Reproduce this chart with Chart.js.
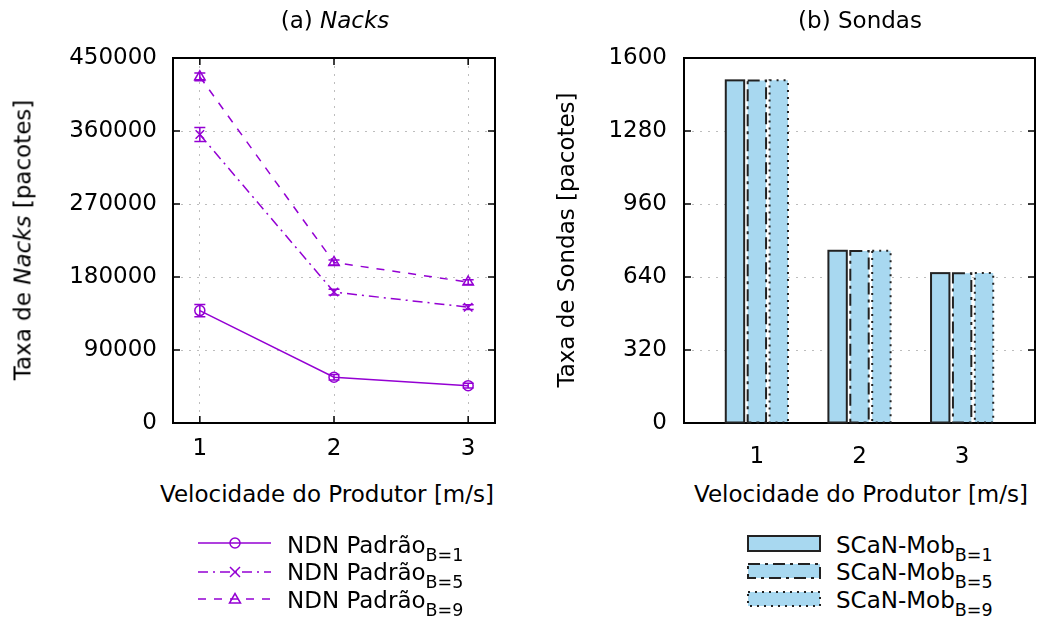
<html>
<head>
<title>Nacks e Sondas</title>
<script src="https://cdn.jsdelivr.net/npm/chart.js@4.4.0/dist/chart.umd.min.js"></script>
<style>
  body { margin: 0; background: #fff; font-family: 'DejaVu Sans', sans-serif; }
  #page { position: relative; width: 1037px; height: 619px; overflow: hidden; }
  canvas { position: absolute; top: 0; }
  .lbl { position: absolute; font-size: 23px; color: #000; white-space: nowrap; line-height: 1;
         transform: translate(-50%, -50%); }
  .rot { transform: translate(-50%, -50%) rotate(-90deg); }
  .leg { position: absolute; font-size: 23px; color: #000; white-space: nowrap; line-height: 1;
         transform: translateY(-50%); }
  .sb { font-size: 17.5px; position: relative; top: 8px; }
  svg { position: absolute; overflow: visible; }
</style>
</head>
<body>
<div id="page">
  <canvas id="nacks" width="520" height="480" style="left:0px"></canvas>
  <canvas id="sondas" width="517" height="480" style="left:520px"></canvas>

  <div class="lbl" style="left:335px; top:20px;">(a) <i>Nacks</i></div>
  <div class="lbl" style="left:860px; top:20px;">(b) Sondas</div>
  <div class="lbl rot" style="left:23px; top:240px;">Taxa de <i>Nacks</i> [pacotes]</div>
  <div class="lbl rot" style="left:566px; top:240px;">Taxa de Sondas [pacotes]</div>
  <div class="lbl" style="left:327px; top:494px;">Velocidade do Produtor [m/s]</div>
  <div class="lbl" style="left:861px; top:494px;">Velocidade do Produtor [m/s]</div>

  <!-- legenda (a) -->
  <svg width="1" height="1" style="left:0;top:0">
    <g stroke="#9400d3" stroke-width="1.5" fill="none">
      <line x1="198" y1="543" x2="271" y2="543"/>
      <circle cx="235" cy="543" r="5"/>
      <line x1="198" y1="572" x2="271" y2="572" stroke-dasharray="10 5 2 5"/>
      <path d="M230 567 L240 577 M240 567 L230 577"/>
      <line x1="198" y1="599" x2="271" y2="599" stroke-dasharray="8 8"/>
      <path d="M229.5 603 L240.5 603 L235 593.5 Z"/>
    </g>
    <g stroke="#222" stroke-width="2" fill="#a8d8f0">
      <rect x="748" y="536" width="72" height="15"/>
      <rect x="748" y="564" width="72" height="14" stroke-dasharray="12 5 3 5"/>
      <rect x="748" y="592" width="72" height="14" stroke-dasharray="2 5"/>
    </g>
  </svg>
  <div class="leg" style="left:287px; top:545px;">NDN Padrão<span class="sb">B=1</span></div>
  <div class="leg" style="left:287px; top:572px;">NDN Padrão<span class="sb">B=5</span></div>
  <div class="leg" style="left:287px; top:600px;">NDN Padrão<span class="sb">B=9</span></div>
  <div class="leg" style="left:836px; top:545px;">SCaN-Mob<span class="sb">B=1</span></div>
  <div class="leg" style="left:836px; top:572px;">SCaN-Mob<span class="sb">B=5</span></div>
  <div class="leg" style="left:836px; top:600px;">SCaN-Mob<span class="sb">B=9</span></div>
</div>

<script>
  // velocidades do produtor (eixo x)
  var speeds = [1, 2, 3];

  // (a) taxa de nacks
  var nackB1 = [138600, 56400, 46000];
  var nackB5 = [355600, 161400, 142800];
  var nackB9 = [426800, 197900, 173700];
  var errB1 = [7600, 3500, 3000];
  var errB5 = [8600, 3500, 3000];
  var errB9 = [4700, 3000, 3000];
  var nackTicks = [0, 90000, 180000, 270000, 360000, 450000];

  // (b) taxa de sondas
  var sondaB1 = [1502, 755, 657];
  var sondaB5 = [1501, 754, 656];
  var sondaB9 = [1502, 755, 657];
  var sondaTicks = [0, 320, 640, 960, 1280, 1600];

  var roxo = '#9400d3';
  var azul = '#a8d8f0';

  Chart.defaults.font.family = "'DejaVu Sans', sans-serif";
  Chart.defaults.font.size = 23;
  Chart.defaults.color = '#000';

  function pts(vals) {
    return speeds.map(function (s, i) { return { x: s, y: vals[i] }; });
  }

  // moldura + marcas de escala para dentro (estilo gnuplot)
  var frame = {
    id: 'frame',
    afterDatasetsDraw: function (chart, args, opts) {
      var a = chart.chartArea, ctx = chart.ctx;
      var xs = chart.scales.x, ys = chart.scales.y;
      ctx.save();
      ctx.strokeStyle = '#000';
      ctx.lineWidth = 1.5;
      ctx.beginPath();
      ys.ticks.forEach(function (t) {
        var y = ys.getPixelForValue(t.value);
        ctx.moveTo(a.left, y); ctx.lineTo(a.left + 7, y);
        ctx.moveTo(a.right, y); ctx.lineTo(a.right - 7, y);
      });
      if (opts.xTicks) {
        xs.ticks.forEach(function (t) {
          var x = xs.getPixelForValue(t.value);
          ctx.moveTo(x, a.bottom); ctx.lineTo(x, a.bottom - 7);
          ctx.moveTo(x, a.top); ctx.lineTo(x, a.top + 7);
        });
      }
      ctx.stroke();
      ctx.lineWidth = 2;
      ctx.strokeRect(a.left, a.top, a.right - a.left, a.bottom - a.top);
      ctx.restore();
    }
  };

  // barras de erro
  var errorBars = {
    id: 'errorBars',
    afterDatasetsDraw: function (chart) {
      var ctx = chart.ctx, ys = chart.scales.y, xs = chart.scales.x;
      ctx.save();
      chart.data.datasets.forEach(function (ds) {
        if (!ds.err) return;
        ctx.strokeStyle = ds.borderColor;
        ctx.lineWidth = 1.5;
        ctx.beginPath();
        ds.data.forEach(function (p, i) {
          var x = xs.getPixelForValue(p.x);
          var y1 = ys.getPixelForValue(p.y - ds.err[i]);
          var y2 = ys.getPixelForValue(p.y + ds.err[i]);
          ctx.moveTo(x, y1); ctx.lineTo(x, y2);
          ctx.moveTo(x - 5.5, y1); ctx.lineTo(x + 5.5, y1);
          ctx.moveTo(x - 5.5, y2); ctx.lineTo(x + 5.5, y2);
        });
        ctx.stroke();
      });
      ctx.restore();
    }
  };

  // contorno tracejado das barras
  var barEdges = {
    id: 'barEdges',
    afterDatasetsDraw: function (chart) {
      var ctx = chart.ctx;
      ctx.save();
      ctx.strokeStyle = '#222';
      ctx.lineWidth = 2;
      chart.data.datasets.forEach(function (ds, di) {
        var meta = chart.getDatasetMeta(di);
        ctx.setLineDash(ds.edgeDash || []);
        meta.data.forEach(function (el) {
          var w = el.width;
          ctx.strokeRect(el.x - w / 2, el.y, w, el.base - el.y);
        });
      });
      ctx.restore();
    }
  };

  function fixTicks(list) {
    return function (scale) {
      scale.ticks = list.map(function (v) { return { value: v }; });
    };
  }

  var gridOpts = { color: '#bdbdbd', lineWidth: 1, drawTicks: false };
  var borderOpts = { display: false, dash: [2, 6] };

  new Chart(document.getElementById('nacks'), {
    type: 'line',
    data: {
      datasets: [
        { label: 'NDN Padrão B=1', data: pts(nackB1), err: errB1, borderColor: roxo, borderWidth: 1.5,
          pointStyle: 'circle', pointRadius: 5, pointBorderWidth: 1.5, pointBorderColor: roxo,
          pointBackgroundColor: 'rgba(0,0,0,0)', tension: 0 },
        { label: 'NDN Padrão B=5', data: pts(nackB5), err: errB5, borderColor: roxo, borderWidth: 1.5,
          borderDash: [10, 5, 2, 5], pointStyle: 'crossRot', pointRadius: 6, pointBorderWidth: 1.5,
          pointBorderColor: roxo, pointBackgroundColor: 'rgba(0,0,0,0)', tension: 0 },
        { label: 'NDN Padrão B=9', data: pts(nackB9), err: errB9, borderColor: roxo, borderWidth: 1.5,
          borderDash: [8, 8], pointStyle: 'triangle', pointRadius: 6, pointBorderWidth: 1.5,
          pointBorderColor: roxo, pointBackgroundColor: 'rgba(0,0,0,0)', tension: 0 }
      ]
    },
    options: {
      responsive: false,
      animation: false,
      devicePixelRatio: 1,
      layout: { padding: { top: 58, right: 25, left: 0, bottom: 0 }, autoPadding: false },
      plugins: { legend: { display: false }, tooltip: { enabled: false }, frame: { xTicks: true } },
      scales: {
        x: {
          type: 'linear', min: 0.8, max: 3.2,
          afterBuildTicks: fixTicks(speeds),
          afterFit: function (s) { s.height = 57; },
          grid: gridOpts, border: borderOpts,
          ticks: { padding: 12, callback: function (v) { return String(v); } }
        },
        y: {
          min: 0, max: 450000,
          afterBuildTicks: fixTicks(nackTicks),
          afterFit: function (s) { s.width = 173; },
          grid: gridOpts, border: borderOpts,
          ticks: { padding: 16, callback: function (v) { return String(v); } }
        }
      }
    },
    plugins: [frame, errorBars]
  });

  new Chart(document.getElementById('sondas'), {
    type: 'bar',
    data: {
      datasets: [
        { label: 'SCaN-Mob B=1', data: pts(sondaB1), backgroundColor: azul, borderWidth: 0, edgeDash: [] },
        { label: 'SCaN-Mob B=5', data: pts(sondaB5), backgroundColor: azul, borderWidth: 0, edgeDash: [12, 5, 3, 5] },
        { label: 'SCaN-Mob B=9', data: pts(sondaB9), backgroundColor: azul, borderWidth: 0, edgeDash: [2, 5] }
      ]
    },
    options: {
      responsive: false,
      animation: false,
      devicePixelRatio: 1,
      categoryPercentage: 0.64,
      barPercentage: 0.84,
      layout: { padding: { top: 58, right: 2, left: 0, bottom: 0 }, autoPadding: false },
      plugins: { legend: { display: false }, tooltip: { enabled: false }, frame: { xTicks: false } },
      scales: {
        x: {
          type: 'linear', min: 0.29, max: 3.71, offset: false,
          afterBuildTicks: fixTicks(speeds),
          afterFit: function (s) { s.height = 57; },
          grid: { display: false }, border: { display: false },
          ticks: { padding: 12, callback: function (v) { return String(v); } }
        },
        y: {
          min: 0, max: 1600,
          afterBuildTicks: fixTicks(sondaTicks),
          afterFit: function (s) { s.width = 164; },
          grid: gridOpts, border: borderOpts,
          ticks: { padding: 17, callback: function (v) { return String(v); } }
        }
      }
    },
    plugins: [frame, barEdges]
  });
</script>
</body>
</html>
